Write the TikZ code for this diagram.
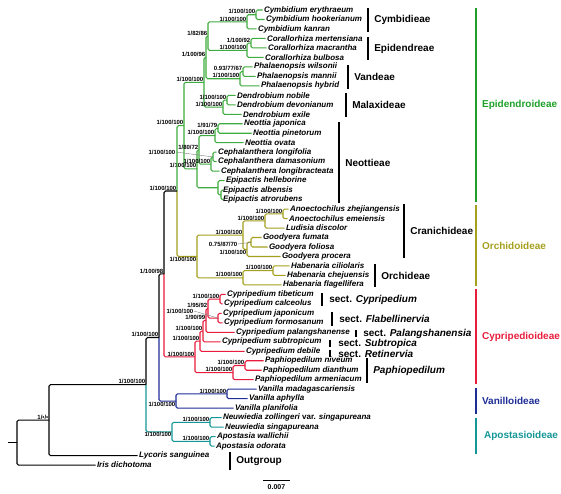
\documentclass[tikz,border=0pt]{standalone}
\usepackage{fontspec}
\setmainfont{Liberation Sans}
\usetikzlibrary{calc}
\definecolor{epigreen}{RGB}{62,172,62}
\definecolor{epilab}{RGB}{30,160,40}
\definecolor{orcolive}{RGB}{165,160,30}
\definecolor{cypred}{RGB}{232,28,60}
\definecolor{vanblue}{RGB}{30,45,150}
\definecolor{apoteal}{RGB}{20,150,150}

% clade joint: name, x, upper child, lower child
\newcommand{\clade}[4]{\path let \p1=($(#3)!.5!(#4)$) in coordinate (#1) at (#2,\y1);}

\tikzset{
  br/.style={line width=1.05pt, rounded corners=1.5pt},
  tip/.style={anchor=west, inner sep=1.3pt, font=\fontsize{8}{9}\selectfont\bfseries\itshape},
  sup/.style={anchor=south east, inner sep=0.5pt, font=\fontsize{6}{6.5}\selectfont\bfseries},
  supb/.style={sup, anchor=north east},
  lead/.style={gray, line width=0.4pt},
  bar/.style={line width=2.6pt},
  subbar/.style={line width=2.2pt},
  grp/.style={anchor=west, inner sep=0pt, font=\fontsize{10}{12}\selectfont\bfseries}
}

\begin{document}
\begin{tikzpicture}[x=1pt, y=-1pt]
  \useasboundingbox (0,0) rectangle (561,494);

  % Tips
  \foreach \nm/\xx [count=\i] in {
    Cymbidium erythraeum/262.5, Cymbidium hookerianum/264.5, Cymbidium kanran/256.5,
    Corallorhiza mertensiana/265.5, Corallorhiza macrantha/266.5, Corallorhiza bulbosa/263.5,
    Phalaenopsis wilsonii/252.5, Phalaenopsis mannii/255.5, Phalaenopsis hybrid/259.5,
    Dendrobium nobile/235.5, Dendrobium devonianum/235.5, Dendrobium exile/241.5,
    Neottia japonica/242.5, Neottia pinetorum/251.5, Neottia ovata/243.5,
    Cephalanthera longifolia/216.5, Cephalanthera damasonium/216.5, Cephalanthera longibracteata/219.5,
    Epipactis helleborine/224.5, Epipactis albensis/221.5, Epipactis atrorubens/221.5,
    Anoectochilus zhejiangensis/288.5, Anoectochilus emeiensis/287.5, Ludisia discolor/284.5,
    Goodyera fumata/261.5, Goodyera foliosa/267.5, Goodyera procera/280.5,
    Habenaria ciliolaris/289.5, Habenaria chejuensis/285.5, Habenaria flagellifera/281.5,
    Cypripedium tibeticum/225.5, Cypripedium calceolus/222.5, Cypripedium japonicum/221.5,
    Cypripedium formosanum/222.5, Cypripedium palangshanense/234.5, Cypripedium subtropicum/220.5,
    Cypripedium debile/244.5, Paphiopedilum niveum/263.5, Paphiopedilum dianthum/261.5,
    Paphiopedilum armeniacum/253.5, Vanilla madagascariensis/256.5, Vanilla aphylla/247.5,
    Vanilla planifolia/233.5, Neuwiedia zollingeri {\upshape var.} singapureana/221.5,
    Neuwiedia singapureana/223.5, Apostasia wallichii/215.5, Apostasia odorata/214.5,
    Lycoris sanguinea/137.5, Iris dichotoma/95.5}
    \node[tip] (t\i) at (\xx, {10+(\i-1)*9.48}) {\nm};

  % Epidendroideae
  \clade{cy1}{256}{t1}{t2}  \clade{cy}{247}{cy1}{t3}
  \clade{co1}{251}{t4}{t5}  \clade{co}{247}{co1}{t6}
  \clade{ce}{208}{cy}{co}
  \clade{ph1}{243}{t7}{t8}  \clade{ph}{240}{ph1}{t9}
  \clade{cev}{206}{ce}{ph}
  \clade{de1}{227}{t10}{t11} \clade{de}{223}{de1}{t12}
  \clade{cevm}{204}{cev}{de}
  \clade{ne1}{218}{t13}{t14} \clade{ne}{215}{ne1}{t15}
  \clade{cp1}{213}{t16}{t17} \clade{cp}{211}{cp1}{t18}
  \clade{nc}{199}{ne}{cp}
  \clade{ep1}{221}{t20}{t21} \clade{ep}{218}{t19}{ep1}
  \clade{neo}{197}{nc}{ep}
  \clade{epi}{184}{cevm}{neo}
  \begin{scope}[br, epigreen]
    \draw (t1.west) -| (cy1) |- (t2.west);
    \draw (cy1) -| (cy) |- (t3.west);
    \draw (t4.west) -| (co1) |- (t5.west);
    \draw (co1) -| (co) |- (t6.west);
    \draw (cy) -| (ce) |- (co);
    \draw (t7.west) -| (ph1) |- (t8.west);
    \draw (ph1) -| (ph) |- (t9.west);
    \draw (ce) -| (cev) |- (ph);
    \draw (t10.west) -| (de1) |- (t11.west);
    \draw (de1) -| (de) |- (t12.west);
    \draw (cev) -| (cevm) |- (de);
    \draw (t13.west) -| (ne1) |- (t14.west);
    \draw (ne1) -| (ne) |- (t15.west);
    \draw (t16.west) -| (cp1) |- (t17.west);
    \draw (cp1) -| (cp) |- (t18.west);
    \draw (ne) -| (nc) |- (cp);
    \draw (t20.west) -| (ep1) |- (t21.west);
    \draw (t19.west) -| (ep) |- (ep1);
    \draw (nc) -| (neo) |- (ep);
    \draw (cevm) -| (epi) |- (neo);
  \end{scope}
  \node[sup] (s-cy1) at (cy1) {1/100/100};
  \node[sup] (s-cy) at (cy) {1/100/100};
  \node[sup] (s-co1) at (co1) {1/100/92};
  \node[sup] (s-co) at (co) {1/100/100};
  \node[sup] (s-ce) at (ce) {1/82/86};
  \node[sup] (s-ph1) at (ph1) {0.93/77/67};
  \node[sup] (s-ph) at (ph) {1/100/100};
  \node[sup] (s-cev) at (cev) {1/100/96};
  \node[sup] (s-de1) at (de1) {1/100/100};
  \node[sup] (s-de) at (de) {1/100/100};
  \node[sup] (s-cevm) at (cevm) {1/100/100};
  \node[sup] (s-ne1) at (ne1) {1/91/79};
  \node[sup] (s-ne) at (ne) {1/100/100};
  \node[sup, anchor=east] (s-cp1) at (176,152) {1/100/100};
  \draw[lead] (s-cp1.east) -- (cp1);
  \node[sup] (s-cp) at (cp) {1/100/100};
  \node[sup] (s-nc) at (nc) {1/80/72};
  \node[sup] (s-neo) at (neo) {1/100/100};
  \node[sup] (s-epi) at (epi) {1/100/100};

  % Orchidoideae
  \clade{an1}{283}{t22}{t23} \clade{an}{265}{an1}{t24}
  \clade{go1}{251}{t25}{t26} \clade{go}{247}{go1}{t27}
  \clade{cr}{243}{an}{go}
  \clade{ha1}{273}{t28}{t29} \clade{ha}{243}{ha1}{t30}
  \clade{orc}{197}{cr}{ha}
  \clade{eo}{177}{epi}{orc}
  \begin{scope}[br, orcolive]
    \draw (t22.west) -| (an1) |- (t23.west);
    \draw (an1) -| (an) |- (t24.west);
    \draw (t25.west) -| (go1) |- (t26.west);
    \draw (go1) -| (go) |- (t27.west);
    \draw (an) -| (cr) |- (go);
    \draw (t28.west) -| (ha1) |- (t29.west);
    \draw (ha1) -| (ha) |- (t30.west);
    \draw (cr) -| (orc) |- (ha);
    \draw (eo) |- (orc);
  \end{scope}
  \draw[br, epigreen] (epi) -| (eo);
  \node[sup] (s-an1) at (an1) {1/100/100};
  \node[sup] (s-an) at (an) {1/100/100};
  \node[sup, anchor=east] (s-go1) at (238,244) {0.75/87/70};
  \draw[lead] (s-go1.east) -- (go1);
  \node[supb] (s-go) at (go) {1/100/100};
  \node[sup] (s-cr) at (cr) {1/100/100};
  \node[sup] (s-ha1) at (ha1) {1/100/100};
  \node[sup] (s-ha) at (ha) {1/100/100};
  \node[supb] (s-orc) at (orc) {1/100/100};
  \node[sup] (s-eo) at (eo) {1/100/100};

  % Cypripedioideae
  \clade{cc1}{220}{t31}{t32} \clade{cj1}{218}{t33}{t34}
  \clade{ca}{208}{cc1}{cj1}
  \clade{cb}{206}{ca}{t35}
  \clade{cs}{203}{cb}{t36}
  \clade{cd}{200}{cs}{t37}
  \clade{pa1}{245}{t38}{t39} \clade{pa}{233}{pa1}{t40}
  \clade{cyp}{195}{cd}{pa}
  \clade{ecyp}{164}{eo}{cyp}
  \begin{scope}[br, cypred]
    \draw (t31.west) -| (cc1) |- (t32.west);
    \draw (t33.west) -| (cj1) |- (t34.west);
    \draw (cc1) -| (ca) |- (cj1);
    \draw (ca) -| (cb) |- (t35.west);
    \draw (cb) -| (cs) |- (t36.west);
    \draw (cs) -| (cd) |- (t37.west);
    \draw (t38.west) -| (pa1) |- (t39.west);
    \draw (pa1) -| (pa) |- (t40.west);
    \draw (cd) -| (cyp) |- (pa);
    \draw (ecyp) |- (cyp);
  \end{scope}
  \draw[br] (eo) -| (ecyp);
  \node[sup] (s-cc1) at (cc1) {1/100/100};
  \node[sup, anchor=east] (s-cj1) at (194,311) {1/100/100};
  \draw[lead] (s-cj1.east) -- (cj1);
  \node[sup] (s-ca) at (ca) {1/95/92};
  \node[sup] (s-cb) at (cb) {1/90/99};
  \node[sup] (s-cs) at (cs) {1/100/100};
  \node[sup] (s-cd) at (cd) {1/100/100};
  \node[sup] (s-pa1) at (pa1) {1/100/100};
  \node[sup] (s-pa) at (pa) {1/100/100};
  \node[sup] (s-cyp) at (cyp) {1/100/100};
  \node[sup] (s-ecyp) at (ecyp) {1/100/98};

  % Vanilloideae
  \clade{va1}{227}{t41}{t42} \clade{va}{176}{va1}{t43}
  \clade{vec}{159}{ecyp}{va}
  \begin{scope}[br, vanblue]
    \draw (t41.west) -| (va1) |- (t42.west);
    \draw (va1) -| (va) |- (t43.west);
    \draw (vec) |- (va);
  \end{scope}
  \draw[br] (ecyp) -| (vec);
  \node[sup] (s-va1) at (va1) {1/100/100};
  \node[supb] (s-va) at (va) {1/100/100};
  \node[sup] (s-vec) at (vec) {1/100/100};

  % Apostasioideae and outgroup
  \clade{nw}{210}{t44}{t45} \clade{ap}{210}{t46}{t47}
  \clade{apo}{172}{nw}{ap}
  \clade{orch}{146}{vec}{apo}
  \clade{amar}{49}{orch}{t48}
  \clade{root}{17}{amar}{t49}
  \coordinate (stub) at ($(root)+(-9,0)$);
  \begin{scope}[br, apoteal]
    \draw (t44.west) -| (nw) |- (t45.west);
    \draw (t46.west) -| (ap) |- (t47.west);
    \draw (nw) -| (apo) |- (ap);
    \draw (orch) |- (apo);
  \end{scope}
  \draw[br] (vec) -| (orch);
  \draw[br] (orch) -| (amar) |- (t48.west);
  \draw[br] (amar) -| (root) |- (t49.west);
  \draw[br] (stub) -- (root);
  \node[sup] (s-nw) at (nw) {1/100/100};
  \node[sup] (s-ap) at (ap) {1/100/100};
  \node[supb] (s-apo) at (apo) {1/100/100};
  \node[sup] (s-orch) at (orch) {1/100/100};
  \node[sup] (s-amar) at (amar) {1/•/•};

  % Tribes and sections
  \draw[bar] (368,8) -- (368,32) node[midway, grp, xshift=5pt] (g-cymb) {Cymbidieae};
  \draw[bar] (368,37) -- (368,60) node[midway, grp, xshift=5pt] (g-epid) {Epidendreae};
  \draw[bar] (348,65) -- (348,89) node[midway, grp, xshift=5pt] (g-vand) {Vandeae};
  \draw[bar] (346,93) -- (346,117) node[midway, grp, xshift=5pt] (g-mala) {Malaxideae};
  \draw[bar] (339,122) -- (339,203) node[midway, grp, xshift=5pt] (g-neot) {Neottieae};
  \draw[bar] (404,204) -- (404,258) node[midway, grp, xshift=5pt] (g-cran) {Cranichideae};
  \draw[bar] (375,264) -- (375,287) node[midway, grp, xshift=5pt] (g-orch) {Orchideae};
  \draw[bar] (322,293) -- (322,306) node[midway, grp, xshift=6pt] (g-scyp) {sect. \textit{Cypripedium}};
  \draw[bar] (332,312) -- (332,326) node[midway, grp, xshift=6pt] (g-sfla) {sect. \textit{Flabellinervia}};
  \draw[bar] (356,330) -- (356,337) node[midway, grp, xshift=6pt] (g-spal) {sect. \textit{Palangshanensia}};
  \draw[bar] (330,340) -- (330,347) node[midway, grp, xshift=7pt] (g-ssub) {sect. \textit{Subtropica}};
  \draw[bar] (330,350) -- (330,357) node[midway, grp, xshift=7pt] (g-sret) {sect. \textit{Retinervia}};
  \draw[bar] (367,358) -- (367,383) node[midway, grp, xshift=5pt] (g-paph) {\textit{Paphiopedilum}};
  \draw[bar] (230,452) -- (230,470) node[midway, grp, xshift=5pt] (g-out) {Outgroup};

  % Subfamilies
  \draw[subbar, epilab] (476,8) -- (476,202) node[midway, grp, xshift=5pt] (f-epi) {Epidendroideae};
  \draw[subbar, orcolive] (476,205) -- (476,286) node[midway, grp, xshift=5pt] (f-orc) {Orchidoideae};
  \draw[subbar, cypred] (476,289) -- (476,384) node[midway, grp, xshift=5pt] (f-cyp) {Cypripedioideae};
  \draw[subbar, vanblue] (476,388) -- (476,414) node[midway, grp, xshift=5pt] (f-van) {Vanilloideae};
  \draw[subbar, apoteal] (476,418) -- (476,454) node[midway, grp, xshift=7pt] (f-apo) {Apostasioideae};

  % Scale bar
  \coordinate (sc0) at (263,480);
  \coordinate (sc1) at (290,480);
  \draw[line width=0.8pt] (sc0) -- (sc1);
  \node[font=\fontsize{7}{8}\selectfont\bfseries, below=1.5pt] (sclab) at ($(sc0)!.5!(sc1)$) {0.007};
\end{tikzpicture}
\end{document}
